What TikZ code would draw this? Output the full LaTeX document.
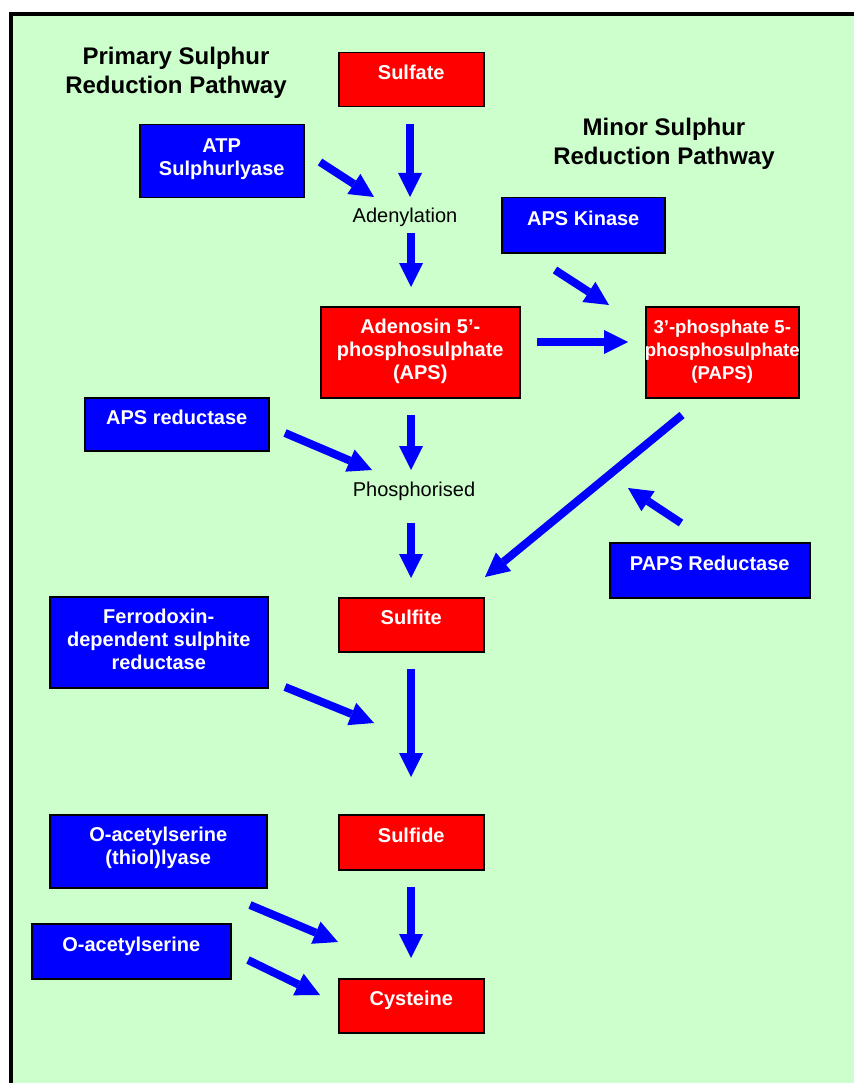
\documentclass[tikz,border=0pt]{standalone}
\usepackage{fontspec}
\setmainfont{Liberation Sans}
\usetikzlibrary{arrows.meta}
\definecolor{bggreen}{HTML}{CCFFCC}
\definecolor{flowblue}{HTML}{0000FF}
\definecolor{substred}{HTML}{FF0000}
\definecolor{enzblue}{HTML}{0000FF}
% fixed-size box content: width, height, first-baseline offset, text
\newcommand{\pbtext}[4]{\parbox[t][#2][t]{#1}{\centering\rule{0pt}{#3}#4}}
% a line that stays centred even when wider than its box
\newcommand{\wideline}[1]{\makebox[\linewidth][c]{#1}}
\begin{document}
\begin{tikzpicture}[x=1pt,y=-1pt,
  substrate/.style={draw=black, line width=1.5pt, fill=substred, text=white,
    inner sep=0pt, anchor=north west, font=\bfseries\fontsize{20}{23}\selectfont},
  enzyme/.style={substrate, fill=enzblue},
  heading/.style={anchor=base, inner sep=0pt, font=\bfseries\fontsize{24}{29}\selectfont},
  stagelabel/.style={anchor=base, inner sep=0pt, font=\fontsize{20}{24}\selectfont},
  flow/.style={draw=flowblue, line width=8pt,
    -{Triangle[length=24pt,width=24pt,line width=0pt]}}
]
\useasboundingbox (0,0) rectangle (854,1083);
% page frame
\fill[white] (0,0) rectangle (854,1083);
\fill[bggreen] (11,13.8) rectangle (854,1083);
\draw[line width=4pt] (11,1083) -- (11,13.8) -- (854,13.8);

% headings
\node[heading] (primary) at (176,65) {\parbox[t]{260pt}{\centering Primary Sulphur\\Reduction Pathway}};
\node[heading] (minor) at (664,136) {\parbox[t]{260pt}{\centering Minor Sulphur\\Reduction Pathway}};

% substrates
\node[substrate] (sulfate) at (338,52) {\pbtext{145pt}{54pt}{27pt}{Sulfate}};
\node[substrate] (aps) at (320,306) {\pbtext{199pt}{91pt}{27pt}{Adenosin 5'-\\phosphosulphate\\(APS)}};
\node[substrate, font=\bfseries\fontsize{18.6}{23}\selectfont] (paps) at (645,306)
  {\pbtext{153pt}{91pt}{27pt}{3'-phosphate 5-\\\wideline{phosphosulphate}\\(PAPS)}};
\node[substrate] (sulfite) at (338,597) {\pbtext{145pt}{54pt}{27pt}{Sulfite}};
\node[substrate] (sulfide) at (338,814) {\pbtext{145pt}{55pt}{28pt}{Sulfide}};
\node[substrate] (cysteine) at (338,978) {\pbtext{145pt}{54pt}{27pt}{Cysteine}};

% enzymes and co-substrate
\node[enzyme] (atpsul) at (139,124) {\pbtext{164pt}{73pt}{28pt}{ATP\\Sulphurlyase}};
\node[enzyme] (apskin) at (501,197) {\pbtext{163pt}{55pt}{28pt}{APS Kinase}};
\node[enzyme] (apsred) at (84,397) {\pbtext{184pt}{53pt}{27pt}{APS reductase}};
\node[enzyme] (papsred) at (609,542) {\pbtext{200pt}{55pt}{28pt}{PAPS Reductase}};
\node[enzyme] (ferro) at (49,596) {\pbtext{218pt}{91pt}{27pt}{Ferrodoxin-\\dependent sulphite\\reductase}};
\node[enzyme] (oasl) at (49,814) {\pbtext{217pt}{73pt}{27pt}{O-acetylserine\\(thiol)lyase}};
\node[enzyme] (oas) at (31,923) {\pbtext{199pt}{55pt}{28pt}{O-acetylserine}};

% reaction steps
\node[stagelabel] (adenyl) at (405,223) {Adenylation};
\node[stagelabel] (phosph) at (414,496) {Phosphorised};

% arrow ends
\coordinate (s1) at (410,124);  \coordinate (e1) at (410,197);
\coordinate (s2) at (411,233);  \coordinate (e2) at (411,287);
\coordinate (s3) at (320,162);  \coordinate (e3) at (374,197);
\coordinate (s4) at (555,270);  \coordinate (e4) at (609,305);
\coordinate (s5) at (537,342);  \coordinate (e5) at (628,342);
\coordinate (s6) at (411,415);  \coordinate (e6) at (411,470);
\coordinate (s7) at (285,433);  \coordinate (e7) at (372,470);
\coordinate (s8) at (411,523);  \coordinate (e8) at (411,578);
\coordinate (s9) at (682,415);  \coordinate (e9) at (485,577);
\coordinate (s10) at (681,523); \coordinate (e10) at (628,488);
\coordinate (s11) at (285,687); \coordinate (e11) at (374,723);
\coordinate (s12) at (411,669); \coordinate (e12) at (411,777);
\coordinate (s13) at (250,905); \coordinate (e13) at (338,942);
\coordinate (s14) at (248,960); \coordinate (e14) at (320,995);
\coordinate (s15) at (411,887); \coordinate (e15) at (411,958);

% arrows
\foreach \i in {1,...,15} \draw[flow] (s\i) -- (e\i);
\end{tikzpicture}
\end{document}
